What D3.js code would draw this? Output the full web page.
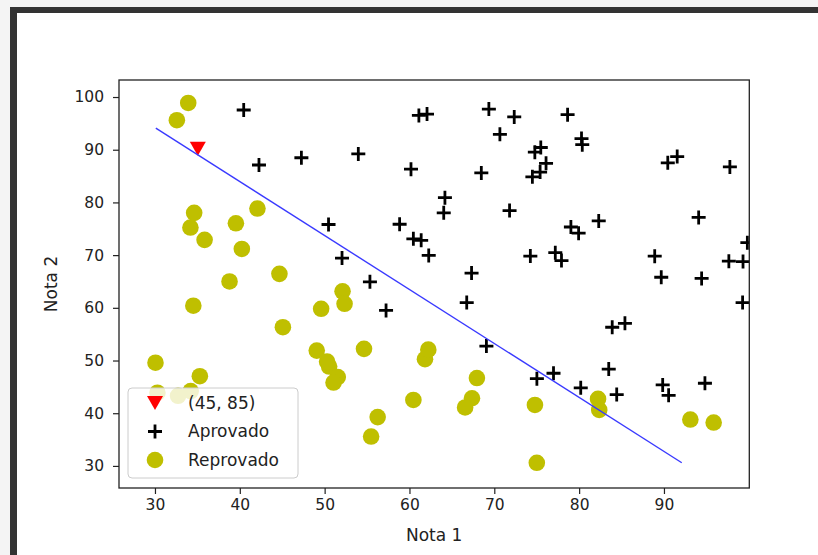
<!DOCTYPE html>
<html>
<head>
<meta charset="utf-8">
<script src="https://cdn.jsdelivr.net/npm/d3@7"></script>
<style>
  body { margin: 0; background: #f4f4f4; }
  svg { display: block; font-family: "DejaVu Sans", sans-serif; }
</style>
</head>
<body>
<svg id="chart" width="818" height="555"></svg>
<script>
/// data ///
// Aprovado (admitted) - [nota1, nota2]
const aprovado = [
  [60.18, 86.31], [79.03, 75.34], [61.11, 96.51], [75.02, 46.55], [76.10, 87.42],
  [84.43, 43.53], [82.31, 76.48], [69.36, 97.72], [53.97, 89.21], [69.07, 52.74],
  [70.66, 92.93], [76.98, 47.58], [89.68, 65.80], [77.92, 68.97], [62.27, 69.95],
  [80.19, 44.82], [61.38, 72.81], [85.40, 57.05], [52.05, 69.43], [64.18, 80.91],
  [83.90, 56.31], [94.44, 65.57], [77.19, 70.46], [97.77, 86.73], [62.07, 96.77],
  [91.56, 88.70], [79.94, 74.16], [99.27, 61.00], [90.55, 43.39], [97.65, 68.86],
  [74.25, 69.82], [71.80, 78.45], [75.40, 85.76], [40.46, 97.54], [80.28, 92.12],
  [66.75, 60.99], [64.04, 78.03], [72.35, 96.23], [60.46, 73.09], [58.84, 75.86],
  [99.83, 72.37], [47.26, 88.48], [50.46, 75.81], [88.91, 69.80], [94.83, 45.69],
  [67.32, 66.59], [57.24, 59.51], [80.37, 90.96], [68.47, 85.59], [75.48, 90.42],
  [78.64, 96.65], [94.09, 77.16], [90.45, 87.51], [74.49, 84.85], [89.85, 45.36],
  [83.49, 48.38], [42.26, 87.10], [99.32, 68.78], [55.34, 64.93], [74.78, 89.53]
]
// Reprovado (not admitted)
const reprovado = [
  [34.62, 78.02], [30.29, 43.89], [35.85, 72.90], [45.08, 56.32], [95.86, 38.23],
  [75.01, 30.60], [39.54, 76.04], [67.95, 46.68], [67.37, 42.84], [50.53, 48.86],
  [34.21, 44.21], [93.11, 38.80], [61.83, 50.26], [38.79, 65.00], [52.11, 63.13],
  [40.24, 71.17], [54.64, 52.21], [33.92, 98.87], [74.79, 41.57], [34.18, 75.24],
  [51.55, 46.86], [82.37, 40.62], [51.05, 45.82], [62.22, 52.06], [34.52, 60.40],
  [50.29, 49.80], [49.59, 59.81], [32.58, 95.60], [35.29, 47.02], [56.25, 39.26],
  [30.06, 49.59], [44.67, 66.45], [66.56, 41.09], [49.07, 51.88], [32.72, 43.31],
  [60.46, 42.51], [82.23, 42.72], [42.08, 78.84], [52.35, 60.77], [55.48, 35.57]
]
// the test point and the decision boundary
const pontoTeste = [[35.05, 90.2]]
const fronteiraX = [30.1, 92.1]
const fronteiraY = [94.1, 30.6]
const xTicks = [30, 40, 50, 60, 70, 80, 90]
const yTicks = [30, 40, 50, 60, 70, 80, 90, 100]
const legendLabels = ["(45, 85)", "Aprovado", "Reprovado"]

/// constants ///
const margin = {left: 119, right: 749.3, top: 80, bottom: 488}
const circleColour = "#bfbf00"
const lineColour = "#3a3aff"
const frameColour = "#333333"

const svg = d3.select("#chart")

// notebook frame around the output
svg.append("rect").attr("x", 10).attr("y", 7).attr("width", 808).attr("height", 548)
  .attr("fill", frameColour)
svg.append("rect").attr("x", 17).attr("y", 13).attr("width", 801).attr("height", 542)
  .attr("fill", "white")

/// scales ///
const xScale = d3.scaleLinear().domain([25.76, 100.06]).range([margin.left, margin.right])
const yScale = d3.scaleLinear().domain([25.81, 103.23]).range([margin.bottom, margin.top])

const plot = svg.append("g")
svg.append("defs").append("clipPath").attr("id", "clip")
  .append("rect")
  .attr("x", margin.left).attr("y", margin.top)
  .attr("width", margin.right - margin.left).attr("height", margin.bottom - margin.top)
plot.attr("clip-path", "url(#clip)")

const triangle = "M-8,-7 L8,-7 L0,7 Z"
const plus = "M-7,0 L7,0 M0,-7 L0,7"

// test point
plot.selectAll(".teste").data(pontoTeste).join("path")
  .classed("teste", true)
  .attr("d", triangle)
  .attr("transform", d => `translate(${xScale(d[0])},${yScale(d[1])})`)
  .attr("fill", "red")

// admitted
plot.selectAll(".aprovado").data(aprovado).join("path")
  .classed("aprovado", true)
  .attr("d", plus)
  .attr("transform", d => `translate(${xScale(d[0])},${yScale(d[1])})`)
  .attr("stroke", "black")
  .attr("stroke-width", 2.8)

// not admitted
plot.selectAll(".reprovado").data(reprovado).join("circle")
  .classed("reprovado", true)
  .attr("cx", d => xScale(d[0]))
  .attr("cy", d => yScale(d[1]))
  .attr("r", 8.3)
  .attr("fill", circleColour)

// decision boundary
plot.append("path")
  .datum(d3.zip(fronteiraX, fronteiraY))
  .attr("d", d3.line().x(d => xScale(d[0])).y(d => yScale(d[1])))
  .attr("fill", "none")
  .attr("stroke", lineColour)
  .attr("stroke-width", 1.4)

/// axes ///
const styleAxis = g => g
  .call(g => g.select(".domain").remove())
  .call(g => g.selectAll(".tick line").attr("stroke", "#222").attr("stroke-width", 1.2))
  .call(g => g.selectAll(".tick text").attr("fill", "#222").attr("font-size", "15.5px")
    .attr("font-family", "DejaVu Sans"))

svg.append("g")
  .attr("transform", `translate(0,${margin.bottom})`)
  .call(d3.axisBottom(xScale).tickValues(xTicks).tickSize(6).tickPadding(5))
  .call(styleAxis)

svg.append("g")
  .attr("transform", `translate(${margin.left},0)`)
  .call(d3.axisLeft(yScale).tickValues(yTicks).tickSize(6).tickPadding(9))
  .call(styleAxis)

// spines
svg.append("rect")
  .attr("x", margin.left).attr("y", margin.top)
  .attr("width", margin.right - margin.left).attr("height", margin.bottom - margin.top)
  .attr("fill", "none").attr("stroke", "#222").attr("stroke-width", 1.3)

// axis labels
svg.append("text")
  .attr("x", (margin.left + margin.right) / 2).attr("y", 541)
  .attr("text-anchor", "middle").attr("font-size", "17px").attr("fill", "#222")
  .text("Nota 1")
svg.append("text")
  .attr("transform", `translate(57,${(margin.top + margin.bottom) / 2}) rotate(-90)`)
  .attr("text-anchor", "middle").attr("font-size", "17px").attr("fill", "#222")
  .text("Nota 2")

/// legend ///
const legend = svg.append("g")
legend.append("rect")
  .attr("x", 128).attr("y", 388).attr("width", 170).attr("height", 90)
  .attr("rx", 4).attr("fill", "white").attr("fill-opacity", 0.8)
  .attr("stroke", "#cccccc").attr("stroke-width", 1)

const rowY = d3.scalePoint().domain(legendLabels).range([403, 460])
legend.append("path").attr("d", triangle)
  .attr("transform", `translate(155,${rowY(legendLabels[0])})`).attr("fill", "red")
legend.append("path").attr("d", plus)
  .attr("transform", `translate(155,${rowY(legendLabels[1])})`)
  .attr("stroke", "black").attr("stroke-width", 2.8)
legend.append("circle").attr("cx", 155).attr("cy", rowY(legendLabels[2])).attr("r", 8.3)
  .attr("fill", circleColour)
legend.selectAll(".legend-text").data(legendLabels).join("text")
  .classed("legend-text", true)
  .attr("x", 188).attr("y", d => rowY(d)).attr("dy", "0.35em")
  .attr("font-size", "17px").attr("fill", "#222")
  .text(d => d)
</script>
</body>
</html>
